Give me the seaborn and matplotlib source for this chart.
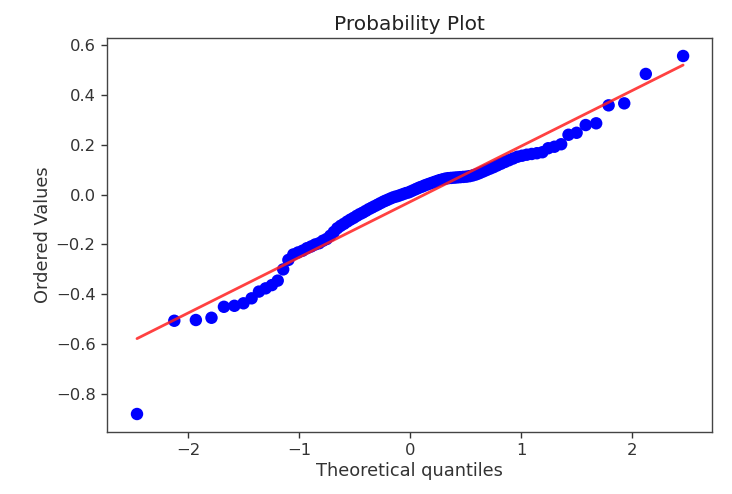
import numpy as np
import pandas as pd
import matplotlib
matplotlib.use("Agg")
import matplotlib.pyplot as plt
import seaborn as sns
from statistics import NormalDist

# Ordered sample values (n = 100), smallest to largest
ordered_values = [
    -0.880, -0.506, -0.503, -0.494, -0.446, -0.450, -0.436, -0.416, -0.389, -0.376,
    -0.363, -0.345, -0.300, -0.262, -0.240, -0.232, -0.225, -0.215, -0.208, -0.200,
    -0.195, -0.185, -0.178, -0.165, -0.150, -0.135, -0.125, -0.117, -0.108, -0.100,
    -0.093, -0.085, -0.078, -0.072, -0.065, -0.058, -0.052, -0.046, -0.040, -0.034,
    -0.028, -0.023, -0.018, -0.013, -0.009, -0.006, -0.002, 0.002, 0.006, 0.009,
    0.014, 0.019, 0.024, 0.029, 0.033, 0.038, 0.042, 0.046, 0.050, 0.054,
    0.058, 0.061, 0.064, 0.066, 0.067, 0.068, 0.069, 0.070, 0.071, 0.072,
    0.074, 0.077, 0.081, 0.086, 0.092, 0.098, 0.104, 0.110, 0.117, 0.124,
    0.131, 0.138, 0.145, 0.152, 0.156, 0.160, 0.163, 0.166, 0.170, 0.186,
    0.192, 0.202, 0.240, 0.248, 0.279, 0.286, 0.358, 0.366, 0.484, 0.556,
]
ordered_values = sorted(ordered_values)

title = "Probability Plot"
x_label = "Theoretical quantiles"
y_label = "Ordered Values"

# Theoretical normal quantiles (Filliben order-statistic medians, as in a probability plot)
n = len(ordered_values)
m = np.empty(n)
m[-1] = 0.5 ** (1.0 / n)
m[0] = 1 - m[-1]
i = np.arange(2, n)
m[1:-1] = (i - 0.3175) / (n + 0.365)
nd = NormalDist()
theoretical = np.array([nd.inv_cdf(p) for p in m])

df = pd.DataFrame({"q": theoretical, "v": ordered_values})
slope, intercept = np.polyfit(df["q"], df["v"], 1)
df["fit"] = intercept + slope * df["q"]

sns.set_theme(style="ticks")
plt.rcParams["font.family"] = ["DejaVu Sans"]

fig = plt.figure(figsize=(7.32, 4.94), dpi=100)
ax = fig.add_axes([0.1458, 0.1261, 0.9723 - 0.1458, 0.9225 - 0.1261])

sns.scatterplot(data=df, x="q", y="v", ax=ax, color="#0000ff", s=80,
                edgecolor="none", linewidth=0, zorder=2)
sns.lineplot(data=df, x="q", y="fit", ax=ax, color="#ff2020", alpha=0.85,
             linewidth=2.0, zorder=3)

ax.set_title(title, fontsize=14.5, color="#222222", pad=6)
ax.set_xlabel(x_label, fontsize=12.8, color="#333333", labelpad=3)
ax.set_ylabel(y_label, fontsize=12.8, color="#333333", labelpad=3)
ax.set_xticks([-2, -1, 0, 1, 2])
ax.set_yticks([-0.8, -0.6, -0.4, -0.2, 0.0, 0.2, 0.4, 0.6])
ax.tick_params(axis="both", labelsize=11.8, length=4.5, width=1.0,
               colors="#333333", labelcolor="#333333")
for sp in ax.spines.values():
    sp.set_color("#444444")
    sp.set_linewidth(1.0)
ax.set_xlim(-2.735, 2.72)
ax.set_ylim(-0.951, 0.627)

fig.savefig("out.png", dpi=100)
